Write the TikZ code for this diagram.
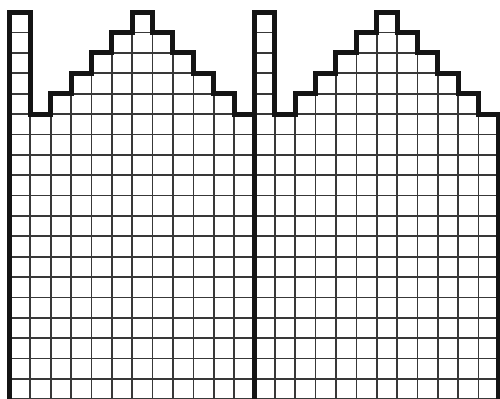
\documentclass[tikz,border=0pt]{standalone}
\usepackage{tikz}

\begin{document}
\begin{tikzpicture}[
  cellgrid/.style={draw=black!78,line width=2.4pt},
  rim/.style={draw=black!92,line width=7pt,line join=miter},
  mittenedge/.style={insert path={(0,-0.5) -- (0,19) -- (1,19) -- (1,14)
      -- (2,14) -- (2,15) -- (3,15) -- (3,16) -- (4,16) -- (4,17) -- (5,17)
      -- (5,18) -- (6,18) -- (6,19) -- (7,19) -- (7,18) -- (8,18) -- (8,17)
      -- (9,17) -- (9,16) -- (10,16) -- (10,15) -- (11,15) -- (11,14)
      -- (12,14) -- (12,-0.5)}}
]
\useasboundingbox (-0.49,0.02) rectangle (24.05,19.6);

% two halves, grid clipped to the stepped outline
\foreach \dx in {0,12} {
  \begin{scope}[xshift=\dx cm]
    \begin{scope}
      \clip[mittenedge] -- cycle;
      \draw[cellgrid] (0,-1) grid (12,19);
    \end{scope}
    \draw[rim,mittenedge];
  \end{scope}
}
\end{tikzpicture}
\end{document}
